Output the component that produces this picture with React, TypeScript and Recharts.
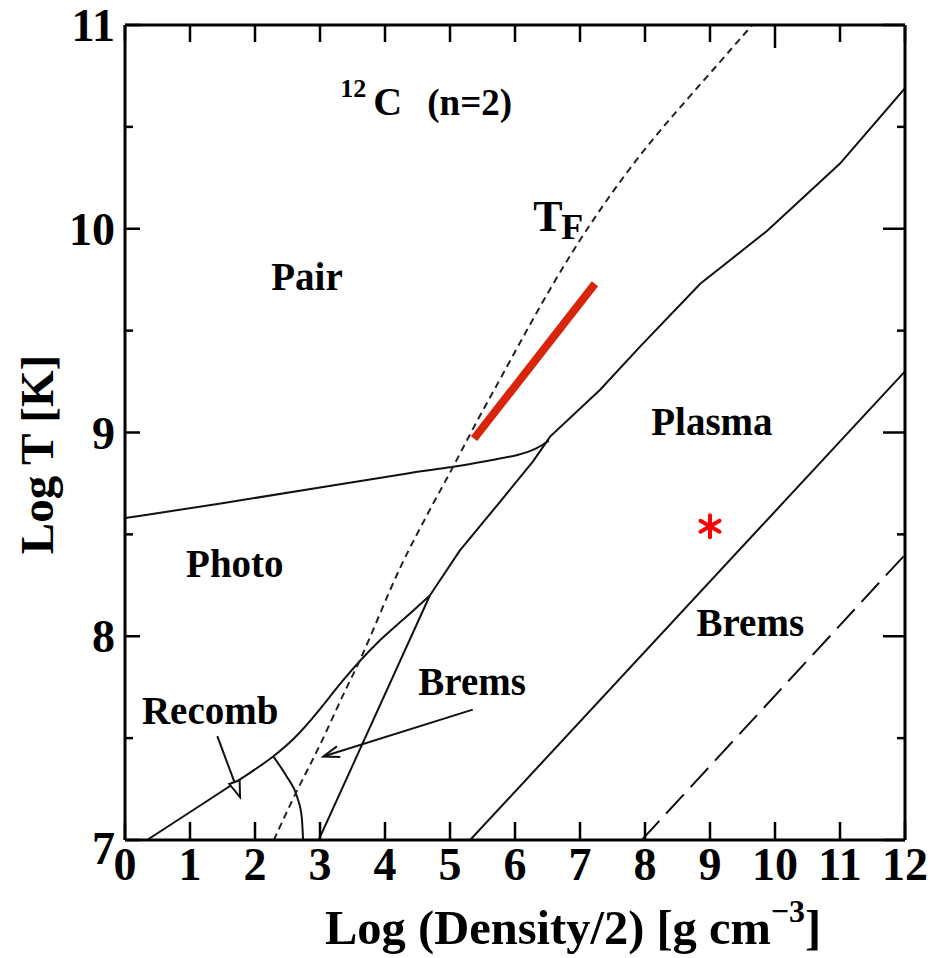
import React from "react";
import { ComposedChart, Line, XAxis, YAxis, ReferenceLine, ReferenceDot } from "recharts";

const FONT = "'Liberation Serif', 'Times New Roman', serif";

const xTicks = [0, 1, 2, 3, 4, 5, 6, 7, 8, 9, 10, 11, 12];
const yTicks = [7, 7.5, 8, 8.5, 9, 9.5, 10, 10.5, 11];

// [log rho/2, log T]
const fermiCurve = [
  [2.29, 7.0], [2.65, 7.25], [3.0, 7.46], [3.36, 7.72], [3.62, 7.88], [3.92, 8.11],
  [4.23, 8.34], [4.49, 8.5], [4.77, 8.67], [5.05, 8.83], [5.35, 9.02], [5.77, 9.26],
  [6.38, 9.62], [7.05, 9.98], [7.92, 10.37], [8.69, 10.65], [9.65, 11.0],
];
const pairPhoto = [
  [0, 8.58], [1.46, 8.65], [3.0, 8.73], [4.54, 8.81], [5.05, 8.83], [5.57, 8.86],
  [6.08, 8.89], [6.34, 8.92], [6.52, 8.96],
];
const recombUpper = [
  [0.34, 7.0], [2.08, 7.36], [2.28, 7.41], [2.59, 7.49], [2.95, 7.62], [3.36, 7.79],
  [3.87, 7.97], [4.28, 8.08], [4.69, 8.2],
];
const plasmaUpper = [
  [4.69, 8.2], [5.15, 8.42], [5.77, 8.66], [6.28, 8.86], [6.54, 8.98], [7.31, 9.21],
  [7.92, 9.42], [8.85, 9.73], [9.88, 9.99], [11.0, 10.32], [12.0, 10.69],
];
const bremsInner = [[2.98, 7.0], [4.69, 8.2]];
const recombArc = [[2.28, 7.41], [2.49, 7.31], [2.65, 7.21], [2.72, 7.11], [2.74, 7.0]];
const plasmaBrems = [[5.31, 7.0], [12.0, 9.3]];
const dashedLong = [[7.95, 7.0], [12.0, 8.4]];
const redSegment = [[5.37, 8.97], [7.23, 9.73]];
const starPoint = { x: 9.0, y: 8.54 };

const arrows = [
  { from: [1.42, 7.51], to: [1.77, 7.21], head: "tri" },
  { from: [5.35, 7.64], to: [3.05, 7.41], head: "open" },
];

const regionLabels = [
  { text: "Pair", x: 2.8, y: 9.7 },
  { text: "Photo", x: 1.69, y: 8.29 },
  { text: "Recomb", x: 1.31, y: 7.57 },
  { text: "Brems", x: 5.34, y: 7.71 },
  { text: "Plasma", x: 9.03, y: 8.99 },
  { text: "Brems", x: 9.62, y: 8.0 },
];

const pts = (a: number[][]) => a.map(([x, y]) => ({ x, y }));

const BottomTick = (p: any) => (
  <g>
    <line x1={p.x} y1={p.y} x2={p.x} y2={p.y - 18} stroke="#000" strokeWidth={2.5} />
    <text x={p.x} y={p.y + 40} textAnchor="middle" fontFamily={FONT} fontWeight="bold" fontSize={46}>
      {p.payload.value}
    </text>
  </g>
);

const TopTick = (p: any) => (
  <line x1={p.x} y1={p.y} x2={p.x} y2={p.y + (p.payload.value === 10 ? 23 : 17)} stroke="#000" strokeWidth={2.5} />
);

const LeftTick = (p: any) => {
  const v = p.payload.value;
  const major = Number.isInteger(v);
  return (
    <g>
      <line x1={p.x} y1={p.y} x2={p.x + (major ? 15 : 8)} y2={p.y} stroke="#000" strokeWidth={2.5} />
      {major && (
        <text x={p.x - 10} y={p.y + (v === 7 ? 24 : 16)} textAnchor="end" fontFamily={FONT} fontWeight="bold" fontSize={46}>
          {v}
        </text>
      )}
    </g>
  );
};

const RightTick = (p: any) => {
  const major = Number.isInteger(p.payload.value);
  return <line x1={p.x} y1={p.y} x2={p.x - (major ? 22 : 8)} y2={p.y} stroke="#000" strokeWidth={2.5} />;
};

const XTitle = (p: any) => {
  const vb = p.viewBox;
  return (
    <text x={vb.x + 200} y={vb.y + 104} fontFamily={FONT} fontWeight="bold" fontSize={48.5}>
      Log (Density/2) [g cm
      <tspan dy={-22} fontSize={32}>−3</tspan>
      <tspan dy={22}>]</tspan>
    </text>
  );
};

const YTitle = (p: any) => {
  const vb = p.viewBox;
  const cx = vb.x + vb.width - 72;
  const cy = vb.y + vb.height / 2 + 22;
  return (
    <text x={cx} y={cy} transform={`rotate(-90, ${cx}, ${cy})`} textAnchor="middle"
      fontFamily={FONT} fontWeight="bold" fontSize={47}>
      Log T [K]
    </text>
  );
};

const textShape = (t: string) => (p: any) => (
  <text x={p.cx} y={p.cy} textAnchor="middle" fontFamily={FONT} fontWeight="bold" fontSize={39}>
    {t}
  </text>
);

const TfShape = (p: any) => (
  <g fontFamily={FONT} fontWeight="bold">
    <text x={p.cx} y={p.cy} fontSize={44}>T</text>
    <text x={p.cx + 28} y={p.cy + 8} fontSize={36}>F</text>
  </g>
);

const NucleusShape = (p: any) => (
  <g fontFamily={FONT} fontWeight="bold">
    <text x={p.cx - 33} y={p.cy - 18} fontSize={26}>12</text>
    <text x={p.cx} y={p.cy} fontSize={40}>C</text>
    <text x={p.cx + 54} y={p.cy} fontSize={37}>(n=2)</text>
  </g>
);

const StarShape = (p: any) => (
  <g stroke="#ff0000" strokeWidth={4} strokeLinecap="round">
    {[90, 30, 150].map((a) => {
      const r = (a * Math.PI) / 180;
      const dx = 11 * Math.cos(r);
      const dy = 11 * Math.sin(r);
      return <line key={a} x1={p.cx - dx} y1={p.cy - dy} x2={p.cx + dx} y2={p.cy + dy} />;
    })}
  </g>
);

const arrowShape = (head: string) => (p: any) => {
  const { x1, y1, x2, y2 } = p;
  const a = Math.atan2(y2 - y1, x2 - x1);
  const L = 17;
  const s = 0.33;
  const ax = x2 - L * Math.cos(a - s);
  const ay = y2 - L * Math.sin(a - s);
  const bx = x2 - L * Math.cos(a + s);
  const by = y2 - L * Math.sin(a + s);
  return (
    <g stroke="#111" strokeWidth={2} fill="none">
      <line x1={x1} y1={y1} x2={x2} y2={y2} />
      {head === "tri" ? (
        <polygon points={`${x2},${y2} ${ax},${ay} ${bx},${by}`} fill="#fff" />
      ) : (
        <polyline points={`${ax},${ay} ${x2},${y2} ${bx},${by}`} />
      )}
    </g>
  );
};

const lineProps = {
  dataKey: "y",
  dot: false,
  activeDot: false,
  isAnimationActive: false,
  legendType: "none" as const,
};

const frame = { stroke: "#000", strokeWidth: 3 };

export default function App() {
  return (
    <div style={{ position: "absolute", left: 0, top: 0, background: "#fff" }}>
      <ComposedChart width={931} height={958} margin={{ top: 24, right: 25, bottom: 117, left: 124 }}>
        <XAxis dataKey="x" type="number" domain={[0, 12]} ticks={xTicks} height={1}
          tickSize={0} tickMargin={0} tickLine={false} axisLine={frame}
          tick={<BottomTick />} label={<XTitle />} allowDataOverflow interval={0} />
        <XAxis xAxisId="top" orientation="top" dataKey="x" type="number" domain={[0, 12]} ticks={xTicks}
          height={1} tickSize={0} tickMargin={0} tickLine={false} axisLine={frame}
          tick={<TopTick />} allowDataOverflow interval={0} />
        <YAxis type="number" domain={[7, 11]} ticks={yTicks} width={1} tickSize={0} tickMargin={0}
          tickLine={false} axisLine={frame} tick={<LeftTick />}
          label={<YTitle />} allowDataOverflow interval={0} />
        <YAxis yAxisId="right" orientation="right" type="number" domain={[7, 11]} ticks={yTicks}
          width={1} tickSize={0} tickMargin={0} tickLine={false}
          axisLine={frame} tick={<RightTick />} allowDataOverflow interval={0} />

        <Line {...lineProps} data={pts(pairPhoto)} type="basis" stroke="#111" strokeWidth={2} />
        <Line {...lineProps} data={pts(recombUpper)} type="basis" stroke="#111" strokeWidth={2} />
        <Line {...lineProps} data={pts(plasmaUpper)} type="linear" stroke="#111" strokeWidth={2} />
        <Line {...lineProps} data={pts(bremsInner)} type="linear" stroke="#111" strokeWidth={2} />
        <Line {...lineProps} data={pts(recombArc)} type="monotone" stroke="#111" strokeWidth={2} />
        <Line {...lineProps} data={pts(plasmaBrems)} type="linear" stroke="#111" strokeWidth={2} />
        <Line {...lineProps} data={pts(dashedLong)} type="linear" stroke="#111" strokeWidth={2}
          strokeDasharray="26 10" />
        <Line {...lineProps} data={pts(fermiCurve)} type="basis" stroke="#222" strokeWidth={2}
          strokeDasharray="7 5" />
        <Line {...lineProps} data={pts(redSegment)} type="linear" stroke="#d8250a" strokeWidth={8} />

        {arrows.map((a, i) => (
          <ReferenceLine key={`arrow-${i}`} segment={[{ x: a.from[0], y: a.from[1] }, { x: a.to[0], y: a.to[1] }]}
            shape={arrowShape(a.head)} ifOverflow="visible" />
        ))}
        {regionLabels.map((l, i) => (
          <ReferenceDot key={`lab-${i}`} x={l.x} y={l.y} r={0} shape={textShape(l.text)} ifOverflow="visible" />
        ))}
        <ReferenceDot x={6.28} y={9.99} r={0} shape={TfShape} ifOverflow="visible" />
        <ReferenceDot x={3.82} y={10.56} r={0} shape={NucleusShape} ifOverflow="visible" />
        <ReferenceDot x={starPoint.x} y={starPoint.y} r={0} shape={StarShape} ifOverflow="visible" />
      </ComposedChart>
    </div>
  );
}
